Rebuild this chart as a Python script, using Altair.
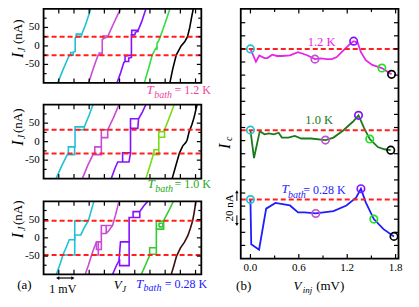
import altair as alt
import pandas as pd

FONT = "Liberation Serif"
RED = "#ff1f1f"
C_CYAN = "#1fc2d4"
C_MAG = "#c94bd6"
C_PURP = "#8612ff"
C_BLACK = "#000000"

# ---------------- panel (a): I_J vs V_J  (V_J in mV, curves offset for clarity; I_J in nA)
# each curve = list of polyline segments (main branch + hysteresis loops)
A12_CYAN = [
    [(0.93, -100), (1.30, -62), (1.62, -32), (1.70, -25), (1.95, -25), (1.95, -17), (2.08, -15), (2.08, 22),
     (2.20, 25), (2.48, 25), (2.52, 32), (2.80, 62), (3.10, 100)],
    [(1.78, -25), (1.78, -18), (1.95, -18)],
    [(2.15, 25), (2.15, 32), (2.52, 32)],
]
A12_MAGENTA = [
    [(2.96, -100), (3.20, -70), (3.45, -40), (3.59, -25), (3.75, -25), (3.86, -20), (3.86, 17), (3.99, 21),
     (4.22, 25), (4.60, 60), (5.06, 100)],
    [(3.66, -25), (3.66, -19), (3.86, -19)],
    [(3.92, 20), (3.92, 27), (4.22, 27)],
]
A12_PURPLE = [
    [(4.83, -100), (5.05, -75), (5.28, -45), (5.36, -42), (5.60, -42), (5.60, -33), (5.78, -31), (5.78, 30),
     (6.00, 30), (6.05, 37), (6.20, 40), (6.45, 65), (6.73, 100)],
    [(5.36, -42), (5.36, -27), (5.78, -25)],
    [(5.80, 25), (5.80, 42), (6.20, 42), (6.20, 37)],
]
A12_GREEN = [
    [(6.63, -100), (6.95, -55), (7.15, -25), (7.36, -8), (7.43, -5), (7.47, 2), (7.47, 8), (7.55, 12),
     (7.68, 25), (8.00, 62), (8.31, 100)],
    [(7.36, -8), (7.47, -8), (7.47, -2)],
]
A12_BLACK = [
    [(8.31, -100), (8.50, -62), (8.73, -25), (9.05, 0), (9.30, 12), (9.47, 25), (9.62, 50), (9.73, 75), (9.85, 100)],
]

A10_CYAN = [
    [(0.82, -100), (1.20, -65), (1.56, -35), (2.04, -35), (2.04, -14), (2.07, -14), (2.07, 32), (2.68, 32),
     (2.68, 40), (3.00, 72), (3.25, 100)],
    [(1.63, -35), (1.63, -14), (2.04, -14)],
    [(2.07, 32), (2.07, 40), (2.68, 40)],
]
A10_MAGENTA = [
    [(2.55, -100), (2.90, -65), (3.25, -35), (3.80, -35), (3.80, 32), (4.22, 32), (4.60, 65), (4.96, 100)],
    [(3.37, -35), (3.37, -14), (3.80, -14)],
    [(3.80, 11), (4.22, 11), (4.22, 32)],
]
A10_PURPLE = [
    [(4.45, -100), (4.70, -72), (4.88, -55), (5.62, -55), (5.72, -31), (5.72, 36), (6.20, 36), (6.25, 62),
     (6.50, 80), (6.73, 100)],
    [(5.20, -55), (5.20, -30), (5.72, -30)],
    [(5.72, 36), (5.72, 62), (6.25, 62)],
]
A10_GREEN = [
    [(6.73, -100), (7.00, -65), (7.22, -35), (7.58, -35), (7.58, 12), (7.96, 12), (7.96, 32), (8.30, 68),
     (8.59, 100)],
    [(7.26, -35), (7.26, -22), (7.58, -22)],
    [(7.58, 12), (7.58, 27), (7.96, 27)],
]
A10_BLACK = [
    [(8.46, -100), (8.70, -65), (8.94, -31), (9.15, -12), (9.37, -2), (9.45, 5), (9.58, 27), (9.75, 45),
     (9.90, 65), (10.10, 100)],
]

A028_CYAN = [
    [(0.84, -100), (1.10, -70), (1.27, -47), (1.50, -25), (1.69, -5), (2.05, -5), (2.05, 8), (2.45, 8),
     (2.70, 30), (2.95, 47), (3.31, 100)],
    [(1.27, -47), (2.05, -47), (2.05, 47), (2.95, 47)],
]
A028_MAGENTA = [
    [(2.74, -100), (2.95, -75), (3.16, -47), (3.30, -30), (3.48, -11), (3.80, -11), (3.80, 12), (4.12, 12),
     (4.30, 20), (4.54, 34), (4.75, 65), (4.96, 100)],
    [(3.16, -47), (3.60, -47), (3.60, -11)],
    [(3.48, -11), (3.48, -32), (3.80, -32), (3.80, -11)],
    [(3.80, 12), (3.80, 34), (4.54, 34)],
    [(4.12, 12), (4.12, 34)],
]
A028_PURPLE = [
    [(4.54, -100), (4.80, -75), (4.96, -63), (5.06, -11), (5.63, -11), (5.63, 56), (6.33, 56), (6.33, 72),
     (6.60, 88), (6.85, 100)],
    [(5.00, -58), (5.00, -76), (5.63, -76), (5.63, -11)],
    [(5.89, 56), (5.89, 72), (6.33, 72)],
]
A028_GREEN = [
    [(6.43, -100), (6.70, -75), (6.96, -50), (7.00, -45), (7.42, -45), (7.42, 24), (7.90, 24), (7.90, 47),
     (8.25, 75), (8.54, 100)],
    [(6.98, -45), (6.98, -27), (7.42, -27)],
    [(7.42, 24), (7.42, 46), (7.90, 46)],
    [(7.60, 30), (7.60, 40), (7.85, 40), (7.85, 30), (7.60, 30)],
]
A028_BROWN = [
    [(8.40, -100), (8.58, -75), (8.75, -50), (9.00, -28), (9.28, -11), (9.49, 6), (9.65, 25), (9.81, 47),
     (9.92, 72), (10.02, 100)],
]

A_IC = [25, 32, 47]                     # red dashed levels +/- Ic (nA)
A_TEMPS = ["1.2 K", "1.0 K", "0.28 K"]
A_TEMP_COLORS = ["#f0449c", "#22aa22", "#2020ff"]

# ---------------- panel (b): Ic vs V_inj (mV), curves offset vertically for clarity
B_V_12 = [0.0, 0.068, 0.11, 0.175, 0.21, 0.27, 0.33, 0.39, 0.49, 0.59, 0.65, 0.71, 0.80, 0.87, 0.95, 1.01,
          1.07, 1.15, 1.23, 1.28, 1.33, 1.37, 1.43, 1.51, 1.63, 1.69, 1.75]
B_IC_12 = [25, 15.2, 20, 18, 18, 20.6, 19.6, 19.6, 20, 22.5, 21.3, 20, 17.2, 17.7, 17.2, 17.2,
           18.8, 23.7, 28.5, 30.9, 29.7, 22.5, 16.4, 12.8, 10.4, 8, 5.6]
B_V_10 = [0.0, 0.044, 0.116, 0.175, 0.23, 0.29, 0.35, 0.39, 0.47, 0.55, 0.63, 0.75, 0.93, 1.03, 1.15, 1.27,
          1.34, 1.41, 1.48, 1.58, 1.66, 1.74]
B_IC_10 = [32, 10.7, 31.2, 28.8, 29.5, 28.8, 30, 26.3, 26.3, 27.6, 25.6, 25.6, 24.4, 26.3, 31.7, 38.4,
           43.3, 33.6, 25.2, 19.1, 17.4, 16.7]
B_V_028 = [0.0, 0.01, 0.107, 0.195, 0.31, 0.49, 0.59, 0.67, 0.81, 1.03, 1.19, 1.31, 1.37, 1.43, 1.53, 1.65, 1.78]
B_IC_028 = [47, 12.9, 8.7, 40.1, 44.4, 42.5, 37.2, 37.2, 36.4, 38.2, 42.5, 48.5, 55.3, 44.9, 32.1, 24.4, 18.9]
B_OFFSET = [135, 66, -2]
B_COLORS = ["#e824e8", "#1a7a1a", "#1e1eff"]

B_MARK_V = [[0.0, 0.80, 1.28, 1.63, 1.75], [0.0, 0.93, 1.34, 1.48, 1.74], [0.0, 0.81, 1.37, 1.53, 1.78]]
B_MARK_IC = [[25, 17.2, 30.9, 10.4, 5.6], [32, 24.4, 43.3, 25.2, 16.7], [47, 36.4, 55.3, 32.1, 18.9]]
MARK_COLORS = [C_CYAN, "#c050d0", C_PURP, "#22e022", C_BLACK]

B_XTICKS = [0.0, 0.6, 1.2, 1.8]
B_XMINOR = [0.3, 0.9, 1.5]

# ---------------- layout (reference pixel geometry, scaled for the 8px page margin)
SX = 403 / 419
SY = 291 / 307


def X(px):
    return px * SX


def Y(py):
    return py * SY


A_XPX = (37, 201)
A_YPX = [(1, 79), (102, 180), (204, 281)]
A_VDOM = (0, 10.38)
A_IDOM = (-100, 100)
B_XPX = (242, 406)
B_YPX = (1, 264.3)
B_VDOM = (-0.12, 1.836)
B_DDOM = (0, 190.5)


def scales(xdom, xpx, ydom, ypx):
    xs = alt.Scale(domain=list(xdom), range=[X(xpx[0]), X(xpx[1])], nice=False, zero=False)
    ys = alt.Scale(domain=list(ydom), range=[Y(ypx[1]), Y(ypx[0])], nice=False, zero=False)
    return xs, ys


def frame_layers(xs, ys, xdom, ydom, xt, xtm, yt, ytm, lmaj=4.5, lmin=3):
    out = []
    box = pd.DataFrame({"x0": [xdom[0]], "x1": [xdom[1]], "y0": [ydom[0]], "y1": [ydom[1]]})
    out.append(alt.Chart(box).mark_rect(fillOpacity=0, stroke="black", strokeWidth=1.8).encode(
        x=alt.X("x0:Q", scale=xs, axis=None), x2="x1:Q",
        y=alt.Y("y0:Q", scale=ys, axis=None), y2="y1:Q"))
    for vals, L in ((yt, lmaj), (ytm, lmin)):
        if not vals:
            continue
        d = pd.DataFrame({"t": vals, "a": xdom[0], "b": xdom[1]})
        out.append(alt.Chart(d).mark_rule(x2Offset=L, color="black", strokeWidth=1.2).encode(
            x=alt.X("a:Q", scale=xs, axis=None), x2="a:Q", y=alt.Y("t:Q", scale=ys, axis=None)))
        out.append(alt.Chart(d).mark_rule(x2Offset=-L, color="black", strokeWidth=1.2).encode(
            x=alt.X("b:Q", scale=xs, axis=None), x2="b:Q", y=alt.Y("t:Q", scale=ys, axis=None)))
    for vals, L in ((xt, lmaj), (xtm, lmin)):
        if not vals:
            continue
        d = pd.DataFrame({"t": vals, "a": ydom[0], "b": ydom[1]})
        out.append(alt.Chart(d).mark_rule(y2Offset=-L, color="black", strokeWidth=1.2).encode(
            y=alt.Y("a:Q", scale=ys, axis=None), y2="a:Q", x=alt.X("t:Q", scale=xs, axis=None)))
        out.append(alt.Chart(d).mark_rule(y2Offset=L, color="black", strokeWidth=1.2).encode(
            y=alt.Y("b:Q", scale=ys, axis=None), y2="b:Q", x=alt.X("t:Q", scale=xs, axis=None)))
    return out


ONE = pd.DataFrame({"k": [0]})


def label(text, x, y, size, color="black", style="normal", align="center", angle=0):
    kw = dict(text=text, fontSize=size, font=FONT, fontStyle=style, color=color,
              align=align, baseline="middle")
    if angle:
        kw["angle"] = angle
    return alt.Chart(ONE).mark_text(**kw).encode(x=alt.value(X(x)), y=alt.value(Y(y)))


layers = []

# ---------------- panel (a)
A_PANELS = [
    [("c", A12_CYAN, C_CYAN), ("m", A12_MAGENTA, C_MAG), ("p", A12_PURPLE, C_PURP),
     ("g", A12_GREEN, "#33dd44"), ("k", A12_BLACK, C_BLACK)],
    [("c", A10_CYAN, C_CYAN), ("m", A10_MAGENTA, C_MAG), ("p", A10_PURPLE, C_PURP),
     ("g", A10_GREEN, "#77dd11"), ("k", A10_BLACK, C_BLACK)],
    [("c", A028_CYAN, C_CYAN), ("m", A028_MAGENTA, C_MAG), ("p", A028_PURPLE, C_PURP),
     ("g", A028_GREEN, "#33cc33"), ("k", A028_BROWN, "#3d0c0c")],
]
A_LABEL_Y = [(25, 44, 50), (119, 136, 142.5), (216, 233, 240)]  # (nA), J, I centres
A_TEMP_Y = [87, 186, 291]
A_TEMP_X = [(144, 152, 173), (145, 153, 173), (133, 141, 163)]

for p, curves in enumerate(A_PANELS):
    xs, ys = scales(A_VDOM, A_XPX, A_IDOM, A_YPX[p])
    rows = []
    for name, segs, col in curves:
        for si, seg in enumerate(segs):
            for k, (v, i) in enumerate(seg):
                rows.append(dict(V=v, I=i, seg=f"{name}{si}", ord=k, col=col))
    df = pd.DataFrame(rows)
    layers.append(alt.Chart(df).mark_line(strokeWidth=1.6).encode(
        x=alt.X("V:Q", scale=xs, axis=None), y=alt.Y("I:Q", scale=ys, axis=None),
        color=alt.Color("col:N", scale=None), detail="seg:N", order="ord:Q"))
    red = pd.DataFrame({"I": [A_IC[p], -A_IC[p]], "a": A_VDOM[0], "b": A_VDOM[1]})
    layers.append(alt.Chart(red).mark_rule(color=RED, strokeWidth=2, strokeDash=[5, 3]).encode(
        x=alt.X("a:Q", scale=xs, axis=None), x2="b:Q", y=alt.Y("I:Q", scale=ys, axis=None)))
    layers += frame_layers(xs, ys, A_VDOM, A_IDOM, list(range(1, 11)), [], [-50, 0, 50], [-75, -25, 25, 75])
    tl = pd.DataFrame({"I": [50, 0, -50], "t": ["50", "0", "-50"]})
    layers.append(alt.Chart(tl).mark_text(font=FONT, fontSize=11, align="right", baseline="middle").encode(
        y=alt.Y("I:Q", scale=ys, axis=None), x=alt.value(X(33)), text="t:N"))
    ny, jy, iy = A_LABEL_Y[p]
    layers.append(label("(nA)", 10, ny, 13, angle=270))
    layers.append(label("J", 14.5, jy, 10, style="italic", angle=270))
    layers.append(label("I", 10, iy, 16, style="italic", angle=270))
    tx, bx, ex = A_TEMP_X[p]
    ty = A_TEMP_Y[p]
    col = A_TEMP_COLORS[p]
    layers.append(label("T", tx, ty, 13, color=col, style="italic", align="left"))
    layers.append(label("bath", bx, ty + 4.5, 10, color=col, style="italic", align="left"))
    layers.append(label("= " + A_TEMPS[p], ex, ty, 12, color=col, align="left"))

# scale bar "1 mV" and V_J title in panel (a)
xs3, ys3 = scales(A_VDOM, A_XPX, A_IDOM, A_YPX[2])
SCALEBAR_V = [0.93, 1.93]
sb = pd.DataFrame({"V": SCALEBAR_V, "I": [-110, -110], "sh": ["triangle-left", "triangle-right"]})
layers.append(alt.Chart(sb).mark_line(color="black", strokeWidth=1.2).encode(
    x=alt.X("V:Q", scale=xs3, axis=None), y=alt.Y("I:Q", scale=ys3, axis=None)))
layers.append(alt.Chart(sb).mark_point(filled=True, color="black", size=14, opacity=1).encode(
    x=alt.X("V:Q", scale=xs3, axis=None), y=alt.Y("I:Q", scale=ys3, axis=None),
    shape=alt.Shape("sh:N", scale=None)))
layers.append(label("1 mV", 57, 296, 12))
layers.append(label("(a)", 17, 292, 13))
layers.append(label("V", 114, 292, 13, style="italic"))
layers.append(label("J", 120.5, 296.5, 9, style="italic"))

# ---------------- panel (b)
xb, yb = scales(B_VDOM, B_XPX, B_DDOM, B_YPX)
B_SERIES = [(B_V_12, B_IC_12), (B_V_10, B_IC_10), (B_V_028, B_IC_028)]
for s, (vv, ic) in enumerate(B_SERIES):
    df = pd.DataFrame({"V": vv, "D": [c + B_OFFSET[s] for c in ic], "o": list(range(len(vv)))})
    layers.append(alt.Chart(df).mark_line(color=B_COLORS[s], strokeWidth=1.8).encode(
        x=alt.X("V:Q", scale=xb, axis=None), y=alt.Y("D:Q", scale=yb, axis=None), order="o:Q"))
    red = pd.DataFrame({"D": [ic[0] + B_OFFSET[s]], "a": B_VDOM[0], "b": B_VDOM[1]})
    layers.append(alt.Chart(red).mark_rule(color=RED, strokeWidth=2, strokeDash=[5, 3]).encode(
        x=alt.X("a:Q", scale=xb, axis=None), x2="b:Q", y=alt.Y("D:Q", scale=yb, axis=None)))
    mk = pd.DataFrame({"V": B_MARK_V[s], "D": [c + B_OFFSET[s] for c in B_MARK_IC[s]], "col": MARK_COLORS})
    layers.append(alt.Chart(mk).mark_point(filled=False, size=55, strokeWidth=1.7, opacity=1).encode(
        x=alt.X("V:Q", scale=xb, axis=None), y=alt.Y("D:Q", scale=yb, axis=None),
        color=alt.Color("col:N", scale=None)))

layers += frame_layers(xb, yb, B_VDOM, B_DDOM, B_XTICKS, B_XMINOR, list(range(10, 190, 10)), [], lmaj=4.5)
tl = pd.DataFrame({"V": B_XTICKS, "t": ["0.0", "0.6", "1.2", "1.8"]})
layers.append(alt.Chart(tl).mark_text(font=FONT, fontSize=11, align="center", baseline="middle").encode(
    x=alt.X("V:Q", scale=xb, axis=None), y=alt.value(Y(274.5)), text="t:N"))

# 20 nA scale bar (arrows) left of panel (b)
SB_D = [(51, 44, "triangle-up"), (26, 33, "triangle-down")]
for tip, tail, sh in SB_D:
    d = pd.DataFrame({"V": [-0.168, -0.168], "D": [tip, tail]})
    layers.append(alt.Chart(d).mark_line(color="black", strokeWidth=1).encode(
        x=alt.X("V:Q", scale=xb, axis=None), y=alt.Y("D:Q", scale=yb, axis=None)))
    layers.append(alt.Chart(d.iloc[:1]).mark_point(filled=True, color="black", size=12, shape=sh,
                                                  opacity=1).encode(
        x=alt.X("V:Q", scale=xb, axis=None), y=alt.Y("D:Q", scale=yb, axis=None)))
layers.append(label("20 nA", 230.5, 211, 11, angle=270))
layers.append(label("I", 225.5, 146, 16, style="italic", angle=270))
layers.append(label("c", 230, 138, 10, style="italic", angle=270))

layers.append(label("1.2 K", 326, 36, 12.5, color=B_COLORS[0]))
layers.append(label("1.0 K", 323.5, 118, 12.5, color=B_COLORS[1]))
layers.append(label("T", 288, 191, 13, color=B_COLORS[2], style="italic"))
layers.append(label("bath", 291, 197.5, 10, color=B_COLORS[2], style="italic", align="left"))
layers.append(label("= 0.28 K", 307, 192, 12, color=B_COLORS[2], align="left"))

layers.append(label("(b)", 245, 293, 13))
layers.append(label("V", 301, 293, 13, style="italic"))
layers.append(label("inj", 306.5, 298, 9, style="italic", align="left"))
layers.append(label("(mV)", 335, 293, 13))

chart = alt.layer(*layers).resolve_scale(x="independent", y="independent").properties(
    width=403, height=291, autosize=alt.AutoSizeParams(type="none"), padding=0, background="white"
).configure_view(stroke=None)

chart.save("out.html", embed_options={"renderer": "svg", "actions": False})
